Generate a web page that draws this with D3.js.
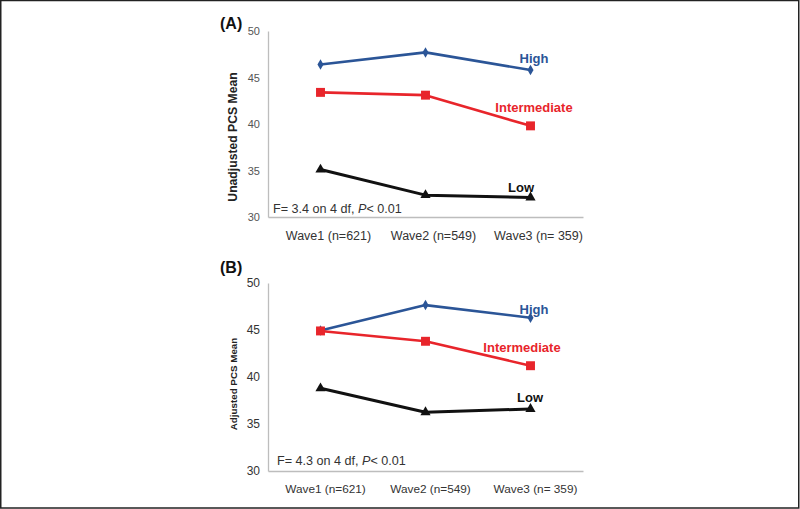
<!DOCTYPE html>
<html><head><meta charset="utf-8">
<script src="https://cdn.jsdelivr.net/npm/d3@7"></script>
<style>
html,body{margin:0;padding:0;background:#fff;}
svg{display:block;font-family:"Liberation Sans",Arial,sans-serif;}
</style></head>
<body>
<svg id="chart" width="800" height="509"></svg>
<script>
const categories = ["Wave1 (n=621)", "Wave2 (n=549)", "Wave3 (n= 359)"];
const yTicks = [30, 35, 40, 45, 50];
const seriesNames = ["High", "Intermediate", "Low"];
const highA = [46.4, 47.7, 45.8];
const interA = [43.4, 43.1, 39.8];
const lowA = [35.1, 32.35, 32.1];
const highB = [44.95, 47.65, 46.3];
const interB = [44.9, 43.8, 41.2];
const lowB = [38.8, 36.25, 36.6];
const statA = ["F= 3.4 on 4 df, ", "P", "< 0.01"];
const statB = ["F= 4.3 on 4 df, ", "P", "< 0.01"];

const colors = {High: "#2b5597", Intermediate: "#e8252b", Low: "#111111"};

const svg = d3.select("#chart");
svg.append("rect").attr("x", 0.75).attr("y", 0.5).attr("width", 798).attr("height", 507.5)
  .attr("fill", "#fff").attr("stroke", "#222").attr("stroke-width", 1.5);

function panel(cfg) {
  const x = d3.scaleBand().domain(categories).range([268, 583]).padding(0);
  const y = d3.scaleLinear().domain([30, 50]).range([cfg.y0, cfg.y1]);
  const g = svg.append("g");

  const ya = g.append("g").attr("transform", "translate(268,0)")
    .call(d3.axisLeft(y).tickValues(yTicks).tickSize(0).tickPadding(8));
  ya.select(".domain").attr("stroke", "#bdbdbd").attr("stroke-width", 1.3);
  ya.selectAll("text").attr("font-size", cfg.tickFs).attr("fill", cfg.tickColor)
    .attr("font-family", "'Liberation Sans',Arial,sans-serif");

  const xa = g.append("g").attr("transform", `translate(0,${cfg.y0})`)
    .call(d3.axisBottom(x).tickSize(0).tickPadding(14));
  xa.select(".domain").attr("stroke", "#bdbdbd").attr("stroke-width", 1.3);
  xa.selectAll("text").attr("font-size", cfg.xFs).attr("fill", "#333")
    .attr("dx", cfg.xdx)
    .attr("font-family", "'Liberation Sans',Arial,sans-serif");

  g.append("text").attr("transform", `translate(${cfg.titleX},${cfg.titleY}) rotate(-90)`)
    .attr("text-anchor", "middle").attr("font-weight", "bold")
    .attr("font-size", cfg.titleFs).attr("fill", "#222").text(cfg.title);

  g.append("text").attr("x", 220).attr("y", cfg.letterY).attr("font-weight", "bold")
    .attr("font-size", 16).attr("fill", "#111").text(cfg.letter);

  const cx = c => x(c) + x.bandwidth() / 2;
  const line = d3.line().x(d => cx(d.c)).y(d => y(d.v));

  cfg.series.forEach((vals, i) => {
    const name = seriesNames[i];
    const data = vals.map((v, j) => ({c: categories[j], v}));
    g.append("path").datum(data).attr("d", line).attr("fill", "none")
      .attr("stroke", colors[name]).attr("stroke-width", name === "Low" ? 3 : 2.6)
      .attr("stroke-linejoin", "round");
    const sym = name === "High" ? d3.symbolDiamond : name === "Intermediate" ? d3.symbolSquare : d3.symbolTriangle;
    const size = name === "High" ? 32 : name === "Intermediate" ? 80 : 45;
    g.selectAll(null).data(data).enter().append("path")
      .attr("transform", d => `translate(${cx(d.c)},${y(d.v)})`)
      .attr("d", d3.symbol().type(sym).size(size))
      .attr("fill", colors[name]);
    const lab = cfg.labels[i];
    g.append("text").attr("x", lab[0]).attr("y", lab[1]).attr("text-anchor", "middle")
      .attr("dominant-baseline", "central").attr("font-weight", "bold")
      .attr("font-size", 13).attr("fill", colors[name]).text(name);
  });

  const st = g.append("text").attr("x", cfg.statX).attr("y", cfg.statY)
    .attr("font-size", 12.6).attr("fill", "#333");
  st.append("tspan").text(cfg.stat[0]);
  st.append("tspan").attr("font-style", "italic").text(cfg.stat[1]);
  st.append("tspan").text(cfg.stat[2]);
}

panel({y0: 217, y1: 31, letter: "(A)", letterY: 29, title: "Unadjusted PCS Mean",
  titleX: 237, titleY: 137, titleFs: 12.2, tickFs: 11, tickColor: "#555", xFs: 12.5, xdx: 8,
  series: [highA, interA, lowA],
  labels: [[534, 58], [534, 107], [521, 187]],
  stat: statA, statX: 273, statY: 213});

panel({y0: 471, y1: 283, letter: "(B)", letterY: 273, title: "Adjusted PCS Mean",
  titleX: 237, titleY: 384, titleFs: 9.8, tickFs: 12, tickColor: "#333", xFs: 11.8, xdx: 5,
  series: [highB, interB, lowB],
  labels: [[534, 309], [522, 347], [530, 397]],
  stat: statB, statX: 277, statY: 465});
</script>
</body></html>
